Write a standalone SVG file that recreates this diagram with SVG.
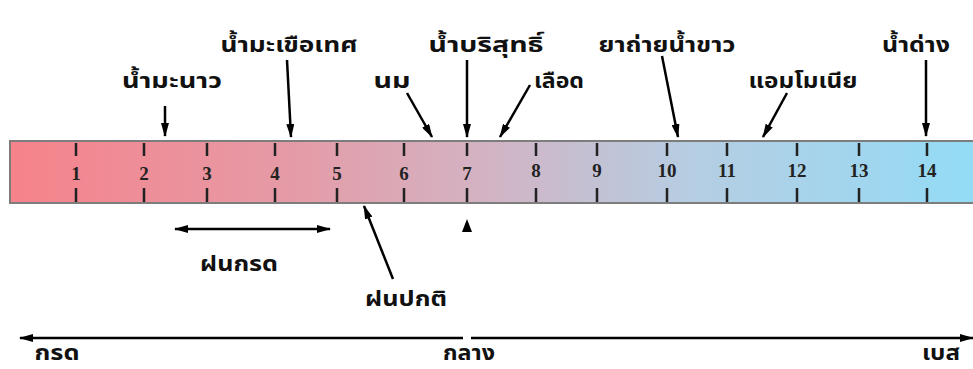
<svg xmlns="http://www.w3.org/2000/svg" width="973" height="369" viewBox="0 0 973 369">
<defs>
<linearGradient id="g" x1="0" y1="0" x2="1" y2="0">
<stop offset="0" stop-color="#f6828a"/>
<stop offset="0.3" stop-color="#e49ca8"/>
<stop offset="0.48" stop-color="#d4b2c2"/>
<stop offset="0.7" stop-color="#b6cde2"/>
<stop offset="1" stop-color="#92dcf6"/>
</linearGradient>
<marker id="ah" viewBox="0 0 14 8" refX="13" refY="4" markerWidth="14" markerHeight="8" markerUnits="userSpaceOnUse" orient="auto-start-reverse">
<path d="M0,0 L14,4 L0,8 Z" fill="#000"/>
</marker>
</defs>
<style>
.lbl{font-family:"Noto Sans Thai","Noto Sans","Liberation Sans",sans-serif;font-weight:bold;font-size:21px;fill:#111;text-anchor:middle}
.num{font-family:"Liberation Serif",serif;font-weight:bold;font-size:19px;fill:#222;text-anchor:middle}
.tk{stroke:#222;stroke-width:2.5}
.ar{stroke:#000;stroke-width:2.5;fill:none;marker-end:url(#ah)}
</style>
<rect width="973" height="369" fill="#fff"/>
<g id="scale">
<rect x="10" y="141" width="970" height="62" fill="url(#g)" stroke="#7d7d7d" stroke-width="2"/>
<g class="tk">
<path d="M76,143v13M76,188v14M144,143v13M144,188v14M207,143v13M207,188v14M275,143v13M275,188v14M337,143v13M337,188v14M404,143v13M404,188v14M467,143v13M467,188v14M536,143v13M536,188v14M597,143v13M597,188v14M667,143v13M667,188v14M727,143v13M727,188v14M797,143v13M797,188v14M859,143v13M859,188v14M927,143v13M927,188v14"/>
</g>
<g class="num">
<text x="76" y="180">1</text><text x="144" y="180">2</text><text x="207" y="180">3</text><text x="275" y="180">4</text><text x="337" y="180">5</text><text x="404" y="180">6</text><text x="467" y="180">7</text><text x="536" y="177">8</text><text x="597" y="177">9</text><text x="667" y="177">10</text><text x="727" y="177">11</text><text x="797" y="177">12</text><text x="859" y="177">13</text><text x="927" y="177">14</text>
</g>
</g>
<g id="n-lemon"><text class="lbl" x="172" y="88" textLength="100" lengthAdjust="spacingAndGlyphs">น้ำมะนาว</text></g>
<g id="n-tomato"><text class="lbl" x="289" y="52" textLength="137" lengthAdjust="spacingAndGlyphs">น้ำมะเขือเทศ</text></g>
<g id="n-milk"><text class="lbl" x="392" y="88" textLength="37" lengthAdjust="spacingAndGlyphs">นม</text></g>
<g id="n-pure"><text class="lbl" x="486" y="52" textLength="115" lengthAdjust="spacingAndGlyphs">น้ำบริสุทธิ์</text></g>
<g id="n-blood"><text class="lbl" x="559" y="88" textLength="50" lengthAdjust="spacingAndGlyphs">เลือด</text></g>
<g id="n-laxative"><text class="lbl" x="667" y="52" textLength="137" lengthAdjust="spacingAndGlyphs">ยาถ่ายน้ำขาว</text></g>
<g id="n-ammonia"><text class="lbl" x="803" y="88" textLength="109" lengthAdjust="spacingAndGlyphs">แอมโมเนีย</text></g>
<g id="n-lye"><text class="lbl" x="916" y="52" textLength="68" lengthAdjust="spacingAndGlyphs">น้ำด่าง</text></g>
<g id="n-acidrain"><text class="lbl" x="239" y="271" textLength="78" lengthAdjust="spacingAndGlyphs">ฝนกรด</text></g>
<g id="n-normalrain"><text class="lbl" x="406" y="306" textLength="82" lengthAdjust="spacingAndGlyphs">ฝนปกติ</text></g>
<g id="n-acid"><text class="lbl" x="57" y="360" textLength="45" lengthAdjust="spacingAndGlyphs">กรด</text></g>
<g id="n-neutral"><text class="lbl" x="469" y="360" textLength="52" lengthAdjust="spacingAndGlyphs">กลาง</text></g>
<g id="n-base"><text class="lbl" x="941" y="360" textLength="38" lengthAdjust="spacingAndGlyphs">เบส</text></g>
<g id="connectors">
<path class="ar" d="M165,106 L165,136"/>
<path class="ar" d="M287,60 L291,137"/>
<path class="ar" d="M407,93 L432,137"/>
<path class="ar" d="M467,60 L467,137"/>
<path class="ar" d="M530,85 L500,137"/>
<path class="ar" d="M662,56 L678,137"/>
<path class="ar" d="M787,93 L763,137"/>
<path class="ar" d="M926,60 L926,136"/>
<path class="ar" d="M393,279 L364,206"/>
<path class="ar" d="M175,229 L330,229" marker-start="url(#ah)"/>
<path d="M462,232 L467,219 L472,232 Z" fill="#000"/>
<path class="ar" d="M463,338 L20,338" stroke-width="2"/>
<path class="ar" d="M471,338 L973,338" stroke-width="2"/>
</g>
</svg>
